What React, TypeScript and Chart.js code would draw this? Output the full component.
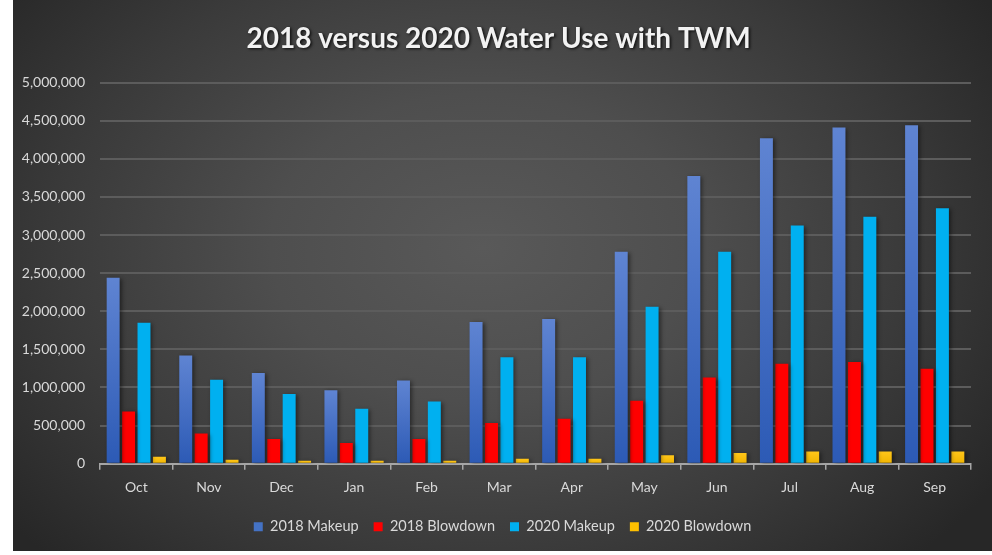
import React, { useEffect, useRef } from "react";
import { Chart, registerables } from "chart.js";

Chart.register(...registerables);

const titleText = "2018 versus 2020 Water Use with TWM";
const months = ["Oct", "Nov", "Dec", "Jan", "Feb", "Mar", "Apr", "May", "Jun", "Jul", "Aug", "Sep"];
const makeup2018 = [2440000, 1420000, 1190000, 965000, 1090000, 1860000, 1900000, 2780000, 3775000, 4270000, 4410000, 4440000];
const blowdown2018 = [685000, 395000, 325000, 270000, 325000, 535000, 590000, 825000, 1130000, 1310000, 1335000, 1245000];
const makeup2020 = [1850000, 1100000, 915000, 720000, 815000, 1395000, 1395000, 2060000, 2780000, 3125000, 3240000, 3350000];
const blowdown2020 = [92000, 52000, 39000, 39000, 39000, 65000, 65000, 110000, 140000, 160000, 160000, 160000];
const seriesNames = ["2018 Makeup", "2018 Blowdown", "2020 Makeup", "2020 Blowdown"];
const yMax = 5000000;
const yStep = 500000;

const FONT = "Lato, 'Open Sans', sans-serif";

function barGradient(top: string, bottom: string, flat: string) {
  return (ctx: any) => {
    const chart = ctx.chart;
    const scales = chart.scales;
    if (!chart.chartArea || !scales || !scales.y || ctx.raw == null) return flat;
    const y0 = scales.y.getPixelForValue(0);
    const y1 = scales.y.getPixelForValue(ctx.raw);
    if (!isFinite(y0) || !isFinite(y1) || y0 === y1) return flat;
    const g = chart.ctx.createLinearGradient(0, y1, 0, y0);
    g.addColorStop(0, top);
    g.addColorStop(1, bottom);
    return g;
  };
}

const shadowPlugin = {
  id: "shadows",
  afterLayout(chart: any) {
    const lg = chart.legend;
    if (lg) {
      lg.left += 10.5;
      lg.right += 10.5;
    }
    const tb = chart.titleBlock;
    if (tb) {
      tb.left += 6.5;
      tb.right += 6.5;
    }
  },
  beforeDatasetsDraw(chart: any) {
    const c = chart.ctx;
    c.save();
    c.shadowColor = "rgba(0,0,0,0.45)";
    c.shadowBlur = 4;
    c.shadowOffsetX = 2;
    c.shadowOffsetY = 1;
  },
  afterDatasetsDraw(chart: any) {
    chart.ctx.restore();
  },
  beforeDraw(chart: any) {
    const tb = chart.titleBlock;
    if (tb && !tb.__wrapped) {
      const orig = tb.draw.bind(tb);
      tb.draw = (...args: any[]) => {
        const c = chart.ctx;
        c.save();
        c.shadowColor = "rgba(0,0,0,0.8)";
        c.shadowBlur = 3;
        c.shadowOffsetX = 1.5;
        c.shadowOffsetY = 1.5;
        orig(...args);
        c.restore();
      };
      tb.__wrapped = true;
    }
  },
};

export default function App() {
  const ref = useRef<HTMLCanvasElement | null>(null);

  useEffect(() => {
    if (!ref.current) return;
    const chart = new Chart(ref.current, {
      type: "bar",
      data: {
        labels: months,
        datasets: [
          {
            label: seriesNames[0],
            data: makeup2018,
            backgroundColor: barGradient("#5f84d2", "#2c5ab5", "#4472c4"),
          },
          {
            label: seriesNames[1],
            data: blowdown2018,
            backgroundColor: "#ff0000",
          },
          {
            label: seriesNames[2],
            data: makeup2020,
            backgroundColor: "#00b0f0",
          },
          {
            label: seriesNames[3],
            data: blowdown2020,
            backgroundColor: barGradient("#ffc61a", "#f0b400", "#ffc000"),
          },
        ],
      },
      plugins: [shadowPlugin],
      options: {
        responsive: false,
        animation: false,
        devicePixelRatio: 1,
        layout: { padding: { left: 0, right: 21, top: 0, bottom: 7 } },
        datasets: {
          bar: { categoryPercentage: 0.85, barPercentage: 0.84 },
        },
        plugins: {
          title: {
            display: true,
            text: titleText,
            color: "#f2f2f2",
            font: { family: FONT, size: 28, weight: "bold" },
            padding: { top: 22, bottom: 27 },
          },
          legend: {
            position: "bottom",
            labels: {
              color: "#d9d9d9",
              font: { family: FONT, size: 14.5 },
              boxWidth: 9,
              boxHeight: 9,
              padding: 15,
              generateLabels: (ch: any) => {
                const items = Chart.defaults.plugins.legend.labels.generateLabels(ch);
                const fills = ["#4472c4", "#ff0000", "#00b0f0", "#ffc000"];
                items.forEach((it: any, i: number) => {
                  it.fillStyle = fills[i];
                  it.strokeStyle = fills[i];
                  it.lineWidth = 0;
                  it.fontColor = "#d9d9d9";
                });
                return items;
              },
            },
          },
          tooltip: { enabled: false },
        },
        scales: {
          x: {
            grid: {
              display: true,
              drawOnChartArea: false,
              drawTicks: true,
              tickLength: 6,
              color: "#a6a6a6",
              lineWidth: 1.5,
            },
            border: { display: true, color: "#a6a6a6", width: 2 },
            ticks: {
              color: "#d9d9d9",
              font: { family: FONT, size: 14 },
              padding: 9,
            },
          },
          y: {
            min: 0,
            max: yMax,
            afterFit: (scale: any) => {
              scale.width = 87;
            },
            grid: {
              color: "#5c5c5c",
              lineWidth: 2,
              drawTicks: false,
            },
            border: { display: false },
            ticks: {
              stepSize: yStep,
              color: "#d9d9d9",
              font: { family: FONT, size: 14 },
              padding: 15,
              callback: (v: any) => Number(v).toLocaleString("en-US"),
            },
          },
        },
      },
    } as any);
    return () => chart.destroy();
  }, []);

  return (
    <div
      style={{
        position: "fixed",
        left: 0,
        top: 0,
        width: 992,
        height: 555,
        background: "#ffffff",
      }}
    >
      <div
        style={{
          position: "absolute",
          left: 13,
          top: 0,
          width: 979,
          height: 551,
          background:
            "radial-gradient(ellipse 62% 80% at 48% 45%, #595959 0%, #4e4e4e 35%, #3a3a3a 70%, #272727 100%)",
        }}
      >
        <canvas ref={ref} width={979} height={551} style={{ width: 979, height: 551, display: "block" }} />
      </div>
    </div>
  );
}
